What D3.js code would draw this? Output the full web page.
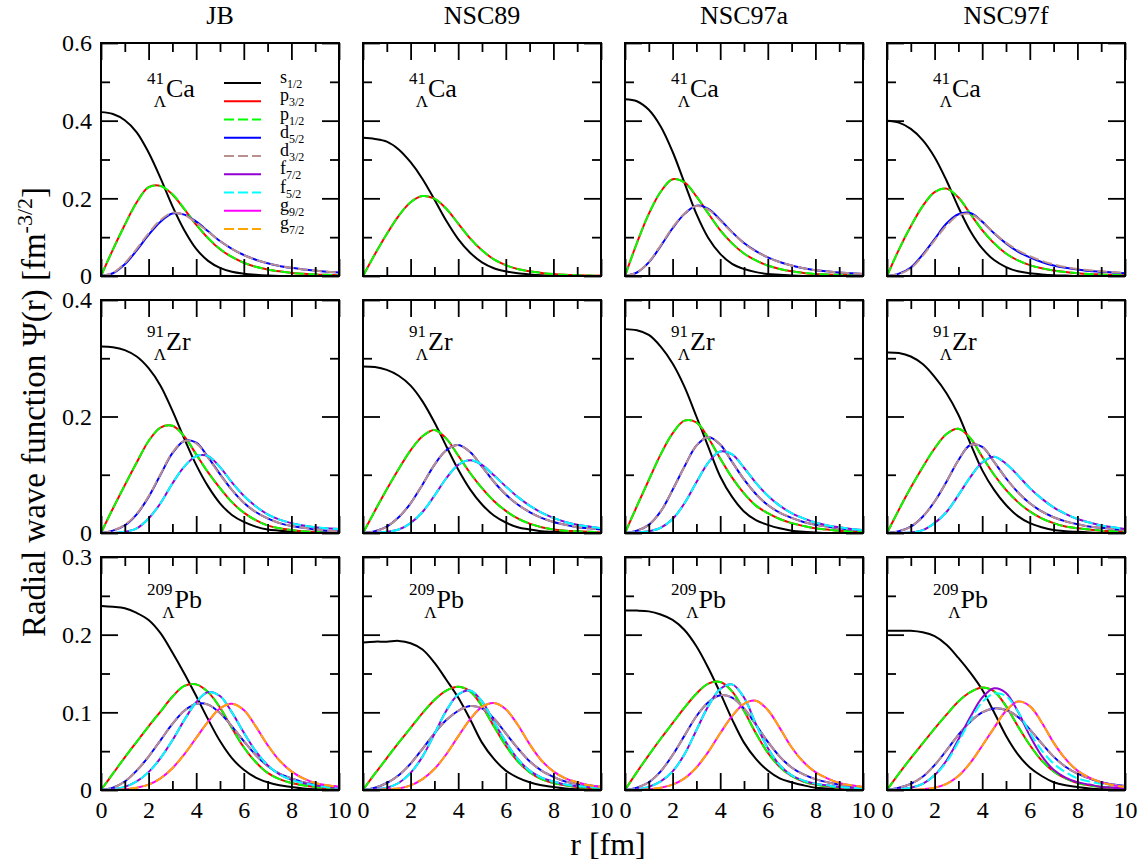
<!DOCTYPE html>
<html lang="en">
<head>
<meta charset="utf-8">
<title>Radial wave functions</title>
<script src="https://cdn.jsdelivr.net/npm/d3@7"></script>
<style>
  body { margin: 0; background: #fff; }
  .frame { fill: none; stroke: #000; stroke-width: 2px; }
  .tick line { stroke: #000; stroke-width: 1.8px; }
  .wave { fill: none; stroke-width: 2px; }
</style>
</head>
<body>
<div id="chart"></div>
<script>
// column / row labels
const models = ["JB", "NSC89", "NSC97a", "NSC97f"];
const nucleusMass = ["41", "91", "209"];
const nucleusSymbol = ["Ca", "Zr", "Pb"];

// axes
const yMaxByRow = [0.6, 0.4, 0.3];
const yMajorTicks = [[0, 0.2, 0.4, 0.6], [0, 0.2, 0.4], [0, 0.1, 0.2, 0.3]];
const yMinorTicks = [[0.1, 0.3, 0.5], [0.1, 0.3], [0.05, 0.15, 0.25]];
const xMajorTicks = [0, 2, 4, 6, 8, 10];
const xMinorTicks = [1, 3, 5, 7, 9];

// single-particle states (draw order = legend order)
const stateLetter = ["s", "p", "p", "d", "d", "f", "f", "g", "g"];
const stateJ = ["1/2", "3/2", "1/2", "5/2", "3/2", "7/2", "5/2", "9/2", "7/2"];
const stateColor = ["#000000", "#ff0000", "#00ff00", "#0000ff", "#bc8f8f", "#9400d3", "#00ffff", "#ff00ff", "#ffa500"];
const stateDashed = [false, false, true, false, true, false, true, false, true];

// radial grid [fm]
const rGrid = [0, 0.5, 1, 1.5, 2, 2.5, 3, 3.5, 4, 4.5, 5, 5.5, 6, 6.5, 7, 7.5, 8, 8.5, 9, 9.5, 10];

// wave functions, one array per state
const jbCa = [
  [.422,.417,.401,.370,.318,.252,.180,.118,.070,.039,.021,.011,.006,.003,.001,0,0,0,0,0,0],
  [0,.068,.132,.190,.229,.232,.210,.172,.132,.097,.069,.049,.034,.024,.017,.012,.008,.006,.004,.003,.002],
  [0,.068,.131,.189,.228,.232,.211,.173,.133,.098,.070,.049,.034,.024,.017,.012,.008,.006,.004,.003,.002],
  [0,.007,.030,.066,.106,.140,.161,.158,.140,.115,.090,.070,.054,.042,.033,.026,.021,.017,.014,.011,.009],
  [0,.008,.033,.070,.110,.144,.163,.157,.138,.114,.090,.070,.054,.042,.033,.026,.021,.017,.014,.011,.009]
];
const jbZr = [
  [.320,.319,.314,.303,.283,.253,.210,.162,.117,.080,.051,.031,.019,.011,.006,.004,.002,.001,.001,0,0],
  [0,.042,.082,.121,.158,.181,.184,.166,.135,.104,.077,.053,.035,.022,.013,.008,.005,.003,.002,.001,.001],
  [0,.042,.082,.121,.158,.181,.184,.166,.135,.104,.077,.053,.035,.022,.013,.008,.005,.003,.002,.001,.001],
  [0,.004,.013,.032,.062,.100,.137,.158,.155,.130,.101,.074,.052,.036,.025,.017,.012,.009,.006,.004,.003],
  [0,.004,.014,.033,.063,.101,.138,.158,.154,.129,.100,.074,.052,.036,.025,.017,.012,.009,.006,.004,.003],
  [0,0,.002,.008,.025,.051,.085,.114,.132,.132,.113,.087,.064,.046,.032,.023,.017,.013,.010,.008,.007],
  [0,0,.002,.008,.025,.051,.085,.114,.132,.132,.113,.087,.064,.046,.032,.023,.017,.013,.010,.008,.007]
];
const jbPb = [
  [.237,.236,.234,.228,.219,.202,.177,.150,.121,.091,.063,.041,.026,.016,.010,.006,.004,.002,.001,.001,0],
  [0,.021,.042,.062,.082,.101,.120,.134,.136,.126,.106,.080,.055,.036,.022,.014,.009,.006,.004,.003,.002],
  [0,.021,.042,.062,.082,.101,.120,.134,.136,.126,.106,.080,.055,.036,.022,.014,.009,.006,.004,.003,.002],
  [0,.003,.011,.025,.043,.064,.085,.102,.111,.110,.099,.082,.063,.045,.031,.021,.015,.010,.007,.005,.004],
  [0,.003,.011,.025,.043,.064,.085,.102,.111,.110,.099,.082,.063,.045,.031,.021,.015,.010,.007,.005,.004],
  [0,.001,.004,.011,.023,.041,.064,.090,.113,.126,.121,.100,.074,.050,.032,.020,.013,.009,.006,.004,.003],
  [0,.001,.004,.011,.023,.041,.064,.090,.113,.126,.121,.100,.074,.050,.032,.020,.013,.009,.006,.004,.003],
  [0,0,.001,.003,.007,.015,.028,.046,.067,.088,.105,.111,.103,.082,.058,.038,.024,.015,.009,.006,.004],
  [0,0,.001,.003,.007,.015,.028,.046,.067,.088,.105,.111,.103,.082,.058,.038,.024,.015,.009,.006,.004]
];

const nsc89Ca = [
  [.356,.353,.346,.326,.293,.250,.197,.142,.095,.060,.035,.020,.012,.007,.004,.002,.001,0,0,0,0],
  [0,.056,.108,.155,.190,.206,.199,.173,.135,.097,.066,.043,.028,.018,.012,.008,.005,.003,.002,.001,.001],
  [0,.056,.108,.155,.190,.206,.199,.173,.135,.097,.066,.043,.028,.018,.012,.008,.005,.003,.002,.001,.001]
];
const nsc89Zr = [
  [.286,.285,.280,.270,.253,.226,.190,.149,.109,.075,.049,.030,.018,.010,.006,.003,.002,.001,0,0,0],
  [0,.038,.075,.110,.142,.166,.177,.162,.133,.103,.077,.055,.038,.025,.016,.010,.006,.004,.003,.002,.001],
  [0,.038,.075,.110,.142,.166,.177,.162,.133,.103,.077,.055,.038,.025,.016,.010,.006,.004,.003,.002,.001],
  [0,.003,.011,.027,.051,.083,.117,.142,.151,.139,.114,.088,.066,.049,.036,.026,.019,.014,.010,.008,.006],
  [0,.003,.011,.027,.051,.083,.117,.142,.151,.139,.114,.088,.066,.049,.036,.026,.019,.014,.010,.008,.006],
  [0,0,.002,.006,.017,.036,.064,.094,.117,.125,.117,.099,.080,.062,.047,.035,.026,.019,.014,.011,.008],
  [0,0,.002,.006,.017,.036,.064,.094,.117,.125,.117,.099,.080,.062,.047,.035,.026,.019,.014,.011,.008]
];
const nsc89Pb = [
  [.190,.191,.191,.192,.189,.181,.164,.142,.119,.091,.061,.040,.025,.016,.010,.006,.004,.002,.001,.001,0],
  [0,.021,.041,.061,.080,.099,.116,.128,.133,.127,.108,.082,.057,.037,.023,.014,.009,.006,.004,.003,.002],
  [0,.021,.041,.061,.080,.099,.116,.128,.133,.127,.108,.082,.057,.037,.023,.014,.009,.006,.004,.003,.002],
  [0,.003,.009,.019,.034,.053,.073,.090,.102,.108,.105,.092,.073,.054,.037,.025,.017,.011,.008,.006,.004],
  [0,.003,.009,.019,.034,.053,.073,.090,.102,.108,.105,.092,.073,.054,.037,.025,.017,.011,.008,.006,.004],
  [0,.001,.003,.009,.022,.043,.072,.102,.123,.128,.114,.088,.062,.040,.025,.016,.011,.007,.005,.004,.003],
  [0,.001,.003,.009,.022,.043,.072,.102,.123,.128,.114,.088,.062,.040,.025,.016,.011,.007,.005,.004,.003],
  [0,0,.001,.002,.006,.014,.027,.046,.069,.091,.107,.112,.104,.084,.059,.038,.024,.015,.010,.006,.004],
  [0,0,.001,.002,.006,.014,.027,.046,.069,.091,.107,.112,.104,.084,.059,.038,.024,.015,.010,.006,.004]
];

const nsc97aCa = [
  [.455,.450,.428,.385,.320,.240,.160,.098,.057,.031,.018,.010,.005,.003,.001,0,0,0,0,0,0],
  [0,.085,.160,.217,.249,.241,.205,.161,.118,.084,.058,.040,.027,.018,.012,.008,.005,.004,.003,.002,.001],
  [0,.085,.160,.217,.249,.241,.205,.161,.118,.084,.058,.040,.027,.018,.012,.008,.005,.004,.003,.002,.001],
  [0,.009,.035,.077,.123,.160,.181,.173,.145,.113,.085,.064,.048,.036,.027,.020,.015,.012,.009,.007,.005],
  [0,.009,.036,.079,.125,.161,.180,.171,.143,.112,.084,.063,.048,.036,.027,.020,.015,.012,.009,.007,.005]
];
const nsc97aZr = [
  [.350,.348,.340,.320,.291,.251,.200,.148,.097,.062,.037,.022,.014,.008,.004,.002,.001,0,0,0,0],
  [0,.046,.091,.135,.171,.193,.190,.163,.128,.095,.068,.047,.034,.024,.017,.012,.008,.006,.004,.003,.002],
  [0,.046,.091,.135,.171,.193,.190,.163,.128,.095,.068,.047,.034,.024,.017,.012,.008,.006,.004,.003,.002],
  [0,.004,.014,.037,.074,.114,.150,.165,.152,.122,.092,.067,.048,.035,.026,.019,.014,.011,.008,.006,.005],
  [0,.004,.014,.037,.074,.114,.150,.165,.152,.122,.092,.067,.048,.035,.026,.019,.014,.011,.008,.006,.005],
  [0,.001,.003,.009,.024,.051,.087,.121,.140,.135,.112,.086,.064,.047,.034,.025,.018,.013,.010,.007,.005],
  [0,.001,.003,.009,.024,.051,.087,.121,.140,.135,.112,.086,.064,.047,.034,.025,.018,.013,.010,.007,.005]
];
const nsc97aPb = [
  [.231,.231,.230,.226,.219,.206,.185,.157,.125,.091,.061,.040,.025,.015,.010,.006,.003,.002,.001,.001,0],
  [0,.023,.045,.066,.086,.106,.124,.137,.139,.127,.102,.073,.048,.030,.018,.011,.007,.005,.003,.002,.001],
  [0,.023,.045,.066,.086,.106,.124,.137,.139,.127,.102,.073,.048,.030,.018,.011,.007,.005,.003,.002,.001],
  [0,.003,.010,.024,.045,.070,.095,.113,.122,.119,.105,.084,.062,.043,.029,.020,.014,.010,.007,.005,.003],
  [0,.003,.010,.024,.045,.070,.095,.113,.122,.119,.105,.084,.062,.043,.029,.020,.014,.010,.007,.005,.003],
  [0,.001,.004,.011,.024,.046,.077,.108,.130,.136,.119,.085,.054,.032,.019,.012,.008,.006,.004,.003,.002],
  [0,.001,.004,.011,.024,.046,.077,.108,.130,.136,.119,.085,.054,.032,.019,.012,.008,.006,.004,.003,.002],
  [0,0,.001,.003,.007,.015,.029,.049,.073,.095,.111,.115,.103,.080,.055,.036,.023,.015,.009,.006,.004],
  [0,0,.001,.003,.007,.015,.029,.049,.073,.095,.111,.115,.103,.080,.055,.036,.023,.015,.009,.006,.004]
];

const nsc97fCa = [
  [.400,.395,.379,.350,.306,.246,.177,.116,.071,.041,.023,.012,.007,.004,.002,.001,0,0,0,0,0],
  [0,.068,.128,.180,.216,.225,.202,.160,.118,.084,.058,.040,.028,.020,.014,.010,.007,.005,.004,.003,.002],
  [0,.068,.128,.180,.216,.225,.202,.161,.119,.085,.058,.040,.028,.020,.014,.010,.007,.005,.004,.003,.002],
  [0,.006,.022,.055,.095,.135,.159,.162,.140,.110,.084,.063,.048,.036,.027,.021,.017,.013,.011,.009,.007],
  [0,.005,.020,.052,.092,.130,.156,.160,.140,.111,.086,.066,.051,.039,.030,.023,.018,.015,.012,.010,.008]
];
const nsc97fZr = [
  [.310,.309,.303,.290,.268,.240,.203,.154,.108,.074,.048,.029,.017,.010,.005,.003,.002,.001,0,0,0],
  [0,.040,.078,.113,.145,.170,.179,.163,.131,.100,.074,.053,.037,.025,.017,.011,.008,.006,.004,.003,.002],
  [0,.040,.078,.113,.145,.170,.179,.163,.131,.100,.074,.053,.037,.025,.017,.011,.008,.006,.004,.003,.002],
  [0,.003,.011,.028,.054,.088,.125,.151,.148,.122,.094,.070,.051,.037,.027,.020,.015,.011,.009,.007,.005],
  [0,.003,.011,.028,.054,.088,.125,.151,.148,.122,.094,.070,.051,.037,.027,.020,.015,.011,.009,.007,.005],
  [0,0,.001,.005,.017,.036,.065,.096,.121,.131,.119,.099,.077,.059,.044,.033,.024,.018,.013,.010,.007],
  [0,0,.001,.005,.017,.036,.065,.096,.121,.131,.119,.099,.077,.059,.044,.033,.024,.018,.013,.010,.007]
];
const nsc97fPb = [
  [.205,.205,.205,.203,.198,.187,.170,.151,.129,.100,.070,.046,.029,.018,.010,.006,.004,.002,.001,.001,0],
  [0,.021,.041,.060,.079,.097,.114,.126,.132,.127,.108,.082,.058,.038,.024,.015,.009,.006,.004,.003,.002],
  [0,.021,.041,.060,.079,.097,.114,.126,.132,.127,.108,.082,.058,.038,.024,.015,.009,.006,.004,.003,.002],
  [0,.003,.008,.017,.032,.051,.071,.088,.100,.105,.103,.094,.078,.060,.043,.030,.021,.015,.010,.007,.005],
  [0,.003,.008,.017,.032,.051,.071,.088,.100,.105,.103,.094,.078,.060,.043,.030,.021,.015,.010,.007,.005],
  [0,.001,.003,.008,.019,.038,.065,.094,.119,.131,.125,.101,.070,.044,.026,.016,.010,.007,.004,.003,.002],
  [0,.001,.003,.008,.019,.036,.062,.090,.113,.124,.121,.101,.074,.051,.034,.023,.015,.011,.008,.006,.004],
  [0,0,0,.001,.003,.008,.018,.035,.057,.080,.102,.114,.108,.087,.061,.040,.025,.016,.010,.006,.004],
  [0,0,0,.001,.003,.008,.018,.035,.057,.080,.102,.114,.108,.087,.061,.040,.025,.016,.010,.006,.004]
];

// [column][row]
const panelWaves = [
  [jbCa, jbZr, jbPb],
  [nsc89Ca, nsc89Zr, nsc89Pb],
  [nsc97aCa, nsc97aZr, nsc97aPb],
  [nsc97fCa, nsc97fZr, nsc97fPb]
];

// layout
const width = 1143, height = 865;
const plotLeft = 101, plotTop = 43;
const panelW = 238, panelH = 233, gapX = 24, gapY = 24;
const majorLen = 17, minorLen = 9;
const symbolBaseline = [54, 50, 51];
const dash = "10,4";
const serif = "'Liberation Serif', 'Times New Roman', Times, serif";

const svg = d3.select("#chart").append("svg")
    .attr("width", width)
    .attr("height", height)
    .attr("font-family", serif);

const x = d3.scaleLinear().domain([0, 10]).range([0, panelW]);
const fmtY = v => v === 0 ? "0" : String(v);

models.forEach((model, col) => {
  const px = plotLeft + col * (panelW + gapX);

  // column title
  svg.append("text")
      .attr("x", px + panelW / 2)
      .attr("y", 24)
      .attr("text-anchor", "middle")
      .style("font-size", "26px")
      .text(model);

  nucleusSymbol.forEach((sym, row) => {
    const py = plotTop + row * (panelH + gapY);
    const y = d3.scaleLinear().domain([0, yMaxByRow[row]]).range([panelH, 0]);
    const g = svg.append("g").attr("transform", `translate(${px},${py})`);

    const line = d3.line()
        .x(d => x(d[0]))
        .y(d => y(d[1]))
        .curve(d3.curveCatmullRom.alpha(0.5));

    // curves
    panelWaves[col][row].forEach((vals, k) => {
      g.append("path")
          .attr("class", "wave")
          .attr("d", line(rGrid.map((r, i) => [r, vals[i]])))
          .attr("stroke", stateColor[k])
          .attr("stroke-dasharray", stateDashed[k] ? dash : null);
    });

    // ticks on all four sides, pointing inward
    const addAxis = (axis, tx, ty, ticks, len, labels) => {
      const a = g.append("g")
          .attr("transform", `translate(${tx},${ty})`)
          .call(axis.tickValues(ticks).tickSizeInner(-len).tickSizeOuter(0)
            .tickFormat(labels ? labels : () => ""));
      a.select(".domain").remove();
      a.attr("font-family", serif).attr("font-size", 24);
      return a;
    };
    const showX = row === 2, showY = col === 0;
    addAxis(d3.axisBottom(x).tickPadding(11), 0, panelH, xMajorTicks, majorLen, showX ? d3.format("d") : null);
    addAxis(d3.axisBottom(x), 0, panelH, xMinorTicks, minorLen, null);
    addAxis(d3.axisTop(x), 0, 0, xMajorTicks, majorLen, null);
    addAxis(d3.axisTop(x), 0, 0, xMinorTicks, minorLen, null);
    addAxis(d3.axisLeft(y).tickPadding(9), 0, 0, yMajorTicks[row], majorLen, showY ? fmtY : null);
    addAxis(d3.axisLeft(y), 0, 0, yMinorTicks[row], minorLen, null);
    addAxis(d3.axisRight(y), panelW, 0, yMajorTicks[row], majorLen, null);
    addAxis(d3.axisRight(y), panelW, 0, yMinorTicks[row], minorLen, null);

    g.append("rect").attr("class", "frame")
        .attr("width", panelW).attr("height", panelH);

    // hypernucleus label: mass number over Lambda, then element
    const sb = symbolBaseline[row];
    const mass = g.append("text")
        .attr("x", 46).attr("y", sb - 13)
        .style("font-size", "17px")
        .text(nucleusMass[row]);
    const symX = 46 + mass.node().getComputedTextLength() + 2;
    g.append("text")
        .attr("x", symX).attr("y", sb + 10)
        .attr("text-anchor", "end")
        .style("font-size", "17px")
        .text("Λ");
    g.append("text")
        .attr("x", symX).attr("y", sb)
        .style("font-size", "26px")
        .text(sym);

    // legend only in the first panel
    if (col === 0 && row === 0) {
      stateLetter.forEach((letter, k) => {
        const ly = 40 + k * 18.25;
        g.append("line")
            .attr("x1", 123).attr("x2", 160)
            .attr("y1", ly).attr("y2", ly)
            .attr("stroke", stateColor[k])
            .attr("stroke-width", 2)
            .attr("stroke-dasharray", stateDashed[k] ? dash : null);
        const t = g.append("text")
            .attr("x", 179).attr("y", ly)
            .style("font-size", "18px")
            .text(letter);
        t.append("tspan")
            .attr("dy", 5)
            .style("font-size", "12px")
            .text(stateJ[k]);
      });
    }
  });
});

// axis titles
const yTitle = svg.append("text")
    .attr("transform", "translate(45,412) rotate(-90)")
    .attr("text-anchor", "middle")
    .style("font-size", "33px");
yTitle.append("tspan").text("Radial wave function Ψ(r) [fm");
yTitle.append("tspan").attr("dy", -13).style("font-size", "22px").text("-3/2");
yTitle.append("tspan").attr("dy", 13).text("]");

svg.append("text")
    .attr("x", 608)
    .attr("y", 855)
    .attr("text-anchor", "middle")
    .style("font-size", "32px")
    .text("r [fm]");
</script>
</body>
</html>
